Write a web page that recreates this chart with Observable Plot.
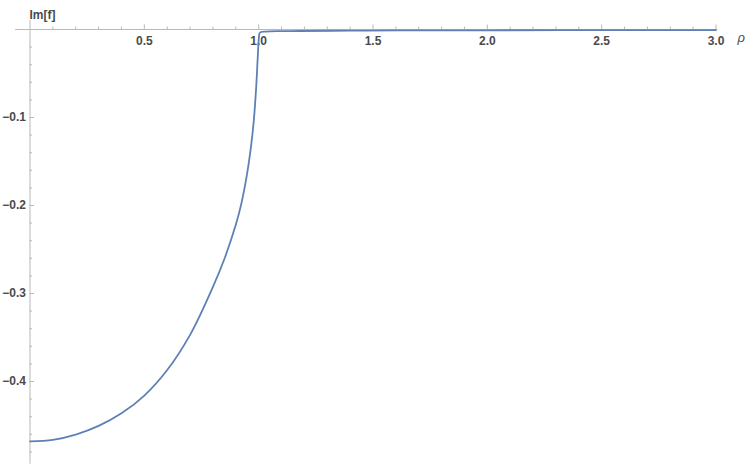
<!DOCTYPE html>
<html>
<head>
<meta charset="utf-8">
<script src="https://cdn.jsdelivr.net/npm/d3@7"></script>
<script src="https://cdn.jsdelivr.net/npm/@observablehq/plot@0.6"></script>
<style>
  html, body { margin: 0; padding: 0; background: #fff; }
  #chart svg { display: block; }
</style>
</head>
<body>
<div id="chart"></div>
<script>
// Data
const rho = [0, 0.1, 0.2, 0.3, 0.4, 0.5, 0.6, 0.7, 0.8, 0.85, 0.9, 0.925, 0.95, 0.9686, 0.9787, 0.989, 0.9962, 1.0006, 1.004, 1.01, 1.03, 1.08, 1.18, 1.4, 1.62, 2.0, 2.5, 3.0];
const imf = [-0.468, -0.4663, -0.4603, -0.4505, -0.4362, -0.416, -0.387, -0.347, -0.2925, -0.2608, -0.222, -0.197, -0.163, -0.1286, -0.1034, -0.0663, -0.0303, -0.0105, -0.0042, -0.0028, -0.0023, -0.0019, -0.0017, -0.0013, -0.0011, -0.0009, -0.0007, -0.0006];

const xMajor = [0.5, 1.0, 1.5, 2.0, 2.5, 3.0];
const xMajorLabels = ["0.5", "1.0", "1.5", "2.0", "2.5", "3.0"];
const xMinor = d3.range(1, 31).map(i => i / 10).filter(v => Math.abs(v * 2 - Math.round(v * 2)) > 1e-9);
const yMajor = [-0.1, -0.2, -0.3, -0.4];
const yMajorLabels = ["\u22120.1", "\u22120.2", "\u22120.3", "\u22120.4"];
const yMinor = d3.range(1, 25).map(i => -i / 50).filter(v => Math.abs(v * 10 - Math.round(v * 10)) > 1e-9);

const xExtent = [-0.063, 3.008];
const yExtent = [0.0102, -0.494];

const data = rho.map((r, i) => ({rho: r, imf: imf[i]}));

// pixel-per-unit factors for tick lengths
const xPx = (715.5 - 29.5) / 3;
const yPx = (381 - 29) / 0.4;

const axisColor = "#b9b9b9";
const labelColor = "#4a4a4a";
const font = "'Liberation Sans', Arial, sans-serif";

const chart = Plot.plot({
  width: 747,
  height: 465,
  margin: 0,
  style: {fontFamily: font, background: "#fff"},
  x: {domain: [0, 3], range: [29.5, 715.5], axis: null},
  y: {domain: [0, -0.4], range: [29, 381], axis: null},
  marks: [
    // axes lines
    Plot.ruleY([0], {x1: xExtent[0], x2: xExtent[1], stroke: axisColor, strokeWidth: 1}),
    Plot.ruleX([0], {y1: yExtent[0], y2: yExtent[1], stroke: axisColor, strokeWidth: 1}),
    // x ticks (pointing up)
    Plot.ruleX(xMajor, {x: d => d, y1: 0, y2: 4.5 / yPx, stroke: axisColor}),
    Plot.ruleX(xMinor, {x: d => d, y1: 0, y2: 2.5 / yPx, stroke: axisColor}),
    // y ticks (pointing right)
    Plot.ruleY(yMajor, {y: d => d, x1: 0, x2: 4.5 / xPx, stroke: axisColor}),
    Plot.ruleY(yMinor, {y: d => d, x1: 0, x2: 2.5 / xPx, stroke: axisColor}),
    // tick labels
    Plot.text(xMajor, {x: d => d, y: 0, text: (d, i) => xMajorLabels[i], dy: 12, fill: labelColor, fontSize: 12, fontWeight: "bold", fontFamily: font}),
    Plot.text(yMajor, {y: d => d, x: 0, text: (d, i) => yMajorLabels[i], dx: -4, textAnchor: "end", fill: labelColor, fontSize: 12, fontWeight: "bold", fontFamily: font}),
    // axis labels
    Plot.text(["Im[f]"], {frameAnchor: "top-left", dx: 29, dy: 10, text: d => d, fill: labelColor, fontSize: 12, fontWeight: "bold", fontFamily: font}),
    Plot.text(["\u03c1"], {frameAnchor: "top-left", dx: 737, dy: 32, textAnchor: "start", text: d => d, fill: labelColor, fontSize: 13, fontStyle: "italic", fontFamily: font}),
    // curve
    Plot.line(data, {x: "rho", y: "imf", stroke: "#5e81b5", strokeWidth: 1.8, curve: "catmull-rom"})
  ]
});
document.getElementById("chart").appendChild(chart);
</script>
</body>
</html>
